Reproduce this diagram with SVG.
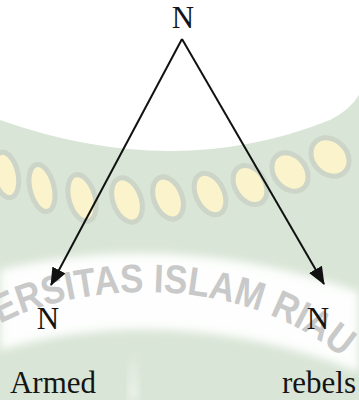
<svg xmlns="http://www.w3.org/2000/svg" width="359" height="400" viewBox="0 0 359 400">
<style>
.lbl{font-family:"Liberation Serif","Times New Roman",serif;font-size:31px;fill:#141414;text-anchor:middle}
.edge{stroke:#111;stroke-width:2;fill:none}
.leaf{fill:#fbf3cb;stroke:#ccd5c8;stroke-width:5}
.wm{font-family:"Liberation Sans",Arial,sans-serif;font-weight:bold;font-size:40px;fill:#c8c9c8}
</style>
<defs>
<marker id="ah" markerUnits="userSpaceOnUse" markerWidth="18" markerHeight="16" viewBox="0 0 17 14" refX="16" refY="7" orient="auto">
<path d="M0,0 L17,7 L0,14 Z" fill="#111"/>
</marker>
<path id="arc" d="M0,324 C70,285 250,262 362,376"/>
<filter id="soft" x="-10%" y="-20%" width="120%" height="140%"><feGaussianBlur stdDeviation="4"/></filter>
</defs>
<rect width="359" height="400" fill="#fff"/>
<g id="watermark">
<path d="M0,120 Q175,182 330,120 Q350,110 359,95 L359,400 L0,400 Z" fill="#d9e5d6"/>
<g>
<ellipse class="leaf" cx="6" cy="175" rx="12" ry="23" transform="rotate(-12 6 175)"/>
<ellipse class="leaf" cx="42" cy="188" rx="12" ry="24" transform="rotate(-14 42 188)"/>
<ellipse class="leaf" cx="82" cy="198" rx="13" ry="24" transform="rotate(-16 82 198)"/>
<ellipse class="leaf" cx="127" cy="200" rx="14" ry="23" transform="rotate(-20 127 200)"/>
<ellipse class="leaf" cx="168" cy="198" rx="14" ry="22" transform="rotate(-22 168 198)"/>
<ellipse class="leaf" cx="210" cy="194" rx="14" ry="22" transform="rotate(-26 210 194)"/>
<ellipse class="leaf" cx="250" cy="185" rx="15" ry="21" transform="rotate(-32 250 185)"/>
<ellipse class="leaf" cx="290" cy="172" rx="16" ry="21" transform="rotate(-38 290 172)"/>
<ellipse class="leaf" cx="330" cy="157" rx="17" ry="21" transform="rotate(-44 330 157)"/>
</g>
<path d="M0,270 Q175,228 359,292 L359,372 Q175,300 0,350 Z" fill="#fdfefd" filter="url(#soft)"/>
<path d="M128,400 L133,352 L139,400 Z" fill="#eef3ec" filter="url(#soft)"/>
<text class="wm" textLength="362" lengthAdjust="spacingAndGlyphs"><textPath href="#arc" startOffset="0">ERSITAS ISLAM RIAU</textPath></text>
</g>
<g id="edges">
<line class="edge" x1="182" y1="39" x2="51" y2="285" marker-end="url(#ah)"/>
<line class="edge" x1="182" y1="39" x2="324" y2="284" marker-end="url(#ah)"/>
</g>
<g id="n-root"><text class="lbl" x="183" y="28">N</text></g>
<g id="n-left"><text class="lbl" x="48" y="329">N</text></g>
<g id="n-right"><text class="lbl" x="318" y="329">N</text></g>
<g id="w-armed"><text class="lbl" x="53" y="393">Armed</text></g>
<g id="w-rebels"><text class="lbl" x="319" y="393">rebels</text></g>
</svg>
